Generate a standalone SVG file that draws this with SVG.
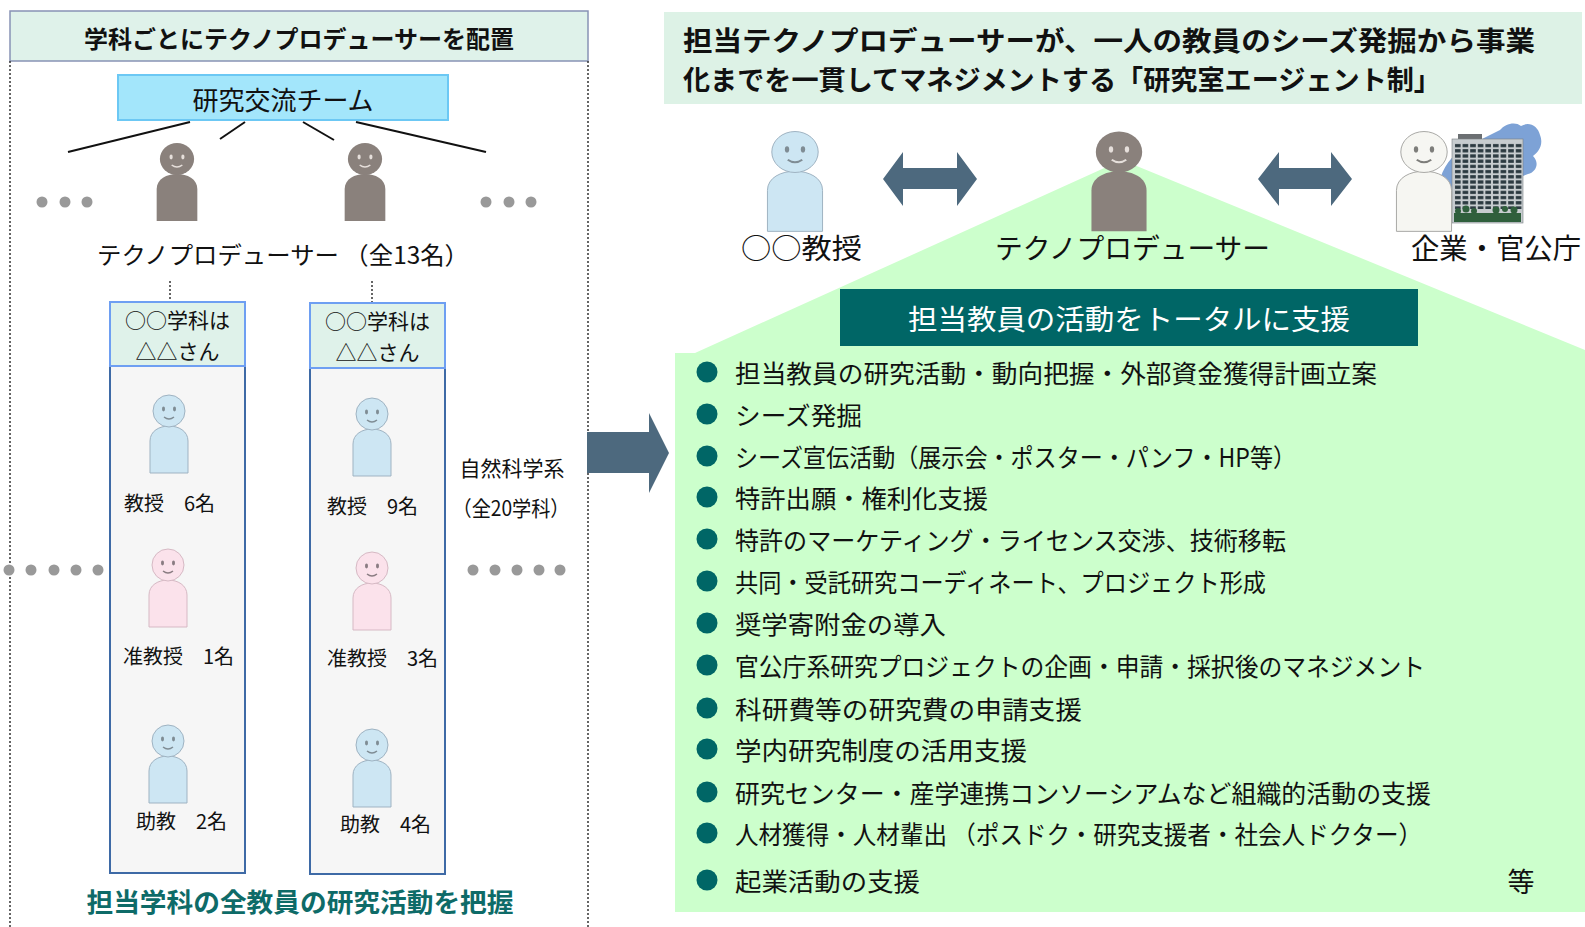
<svg xmlns="http://www.w3.org/2000/svg" xmlns:xlink="http://www.w3.org/1999/xlink" width="1585" height="927" viewBox="0 0 1585 927">
  <style>
    text { font-family: "Noto Sans CJK JP", "Noto Sans", sans-serif; dominant-baseline: central; fill: #111; }
    .b { font-weight: bold; }
    .mid { text-anchor: middle; }
    .eye { fill: currentColor; stroke: none; }
    .smile { fill: none; stroke: currentColor; stroke-width: 1.4; }
    .dot { fill: #999; }
    .dotted { stroke: #333; stroke-width: 1.5; stroke-dasharray: 2 2; fill: none; }
    .bullet { fill: #006666; }
    .item { font-size: 25px; }
    .lbl { font-size: 20px; }
    .deptHead { fill: #dff2ea; stroke: #6e9ff2; stroke-width: 2; }
    .deptBody { fill: #f6f6f6; stroke: #3e6aa6; stroke-width: 2; }
    .prof { fill: #cde6f3; stroke: #9fb3c2; stroke-width: 1; color: #7f8c94; }
    .assoc { fill: #fbe2eb; stroke: #d6b9c4; stroke-width: 1; color: #8a7c82; }
    .tp { fill: #8a817c; stroke: none; color: #e6dfdb; }
    .corp { fill: #f6f6f2; stroke: #a9a9a6; stroke-width: 1; color: #7d7d7a; }
    .slate { fill: #4d697e; }
  </style>
  <defs>
    <!-- generic person figure, head centred on the origin -->
    <g id="person">
      <path d="M-19,62 V30 C-19,10 19,10 19,30 V62 Z" vector-effect="non-scaling-stroke"/>
      <circle cx="0" cy="0" r="16" vector-effect="non-scaling-stroke"/>
      <ellipse class="eye" cx="-5.5" cy="-2" rx="1.5" ry="2.4"/>
      <ellipse class="eye" cx="5.5" cy="-2" rx="1.5" ry="2.4"/>
      <path class="smile" d="M-5,6 Q0,10 5,6"/>
    </g>
    <pattern id="win" x="1454" y="143" width="7.6" height="5.2" patternUnits="userSpaceOnUse">
      <rect width="7.6" height="5.2" fill="#c7cccf"/>
      <rect x="1" y="1" width="5.6" height="3.2" fill="#2b3940"/>
    </pattern>
  </defs>

  <!-- left panel: producers assigned per department -->
  <g id="left-panel">
    <rect x="10" y="11" width="578" height="50" fill="#dff2ea" stroke="#8893b5" stroke-width="1.5"/>
    <text class="b mid" x="299" y="37" font-size="24">学科ごとにテクノプロデューサーを配置</text>
    <line class="dotted" x1="10" y1="61" x2="10" y2="927"/>
    <line class="dotted" x1="588" y1="61" x2="588" y2="927"/>
  </g>

  <g id="team">
    <rect x="118" y="75" width="330" height="45" fill="#a3e6fb" stroke="#6cc8f4" stroke-width="2"/>
    <text class="mid" x="283" y="98" font-size="26">研究交流チーム</text>
  </g>

  <g id="connectors">
    <g stroke="#111" stroke-width="2">
      <line x1="190" y1="122" x2="68" y2="152"/>
      <line x1="245" y1="122" x2="220" y2="139"/>
      <line x1="303" y1="122" x2="334" y2="140"/>
      <line x1="356" y1="122" x2="486" y2="152"/>
    </g>
    <line class="dotted" x1="170" y1="281" x2="170" y2="302"/>
    <line class="dotted" x1="372" y1="281" x2="372" y2="303"/>
    <polygon class="slate" points="587,432 649,432 649,413 669,453 649,493 649,473 587,473"/>
  </g>

  <g id="producers">
    <use xlink:href="#person" class="tp" transform="translate(177,159) scale(1.07,1)"/>
    <use xlink:href="#person" class="tp" transform="translate(365,159) scale(1.07,1)"/>
    <circle class="dot" cx="42" cy="202" r="5.5"/>
    <circle class="dot" cx="65" cy="202" r="5.5"/>
    <circle class="dot" cx="87" cy="202" r="5.5"/>
    <circle class="dot" cx="486" cy="202" r="5.5"/>
    <circle class="dot" cx="509" cy="202" r="5.5"/>
    <circle class="dot" cx="531" cy="202" r="5.5"/>
    <text x="97" y="253" font-size="24" textLength="372" lengthAdjust="spacingAndGlyphs">テクノプロデューサー （全13名）</text>
  </g>

  <g id="dept-1">
    <rect class="deptBody" x="110" y="366" width="135" height="507"/>
    <rect class="deptHead" x="110" y="302" width="135" height="64"/>
    <text class="mid" font-size="21"><tspan x="177.5" y="319">○○学科は</tspan><tspan x="177.5" y="350">△△さん</tspan></text>
    <use xlink:href="#person" class="prof" transform="translate(169,411)"/>
    <text class="lbl" x="124" y="502">教授　6名</text>
    <use xlink:href="#person" class="assoc" transform="translate(168,565)"/>
    <text class="lbl" x="123" y="655">准教授　1名</text>
    <use xlink:href="#person" class="prof" transform="translate(168,741)"/>
    <text class="lbl" x="136" y="820">助教　2名</text>
  </g>

  <g id="dept-2">
    <rect class="deptBody" x="310" y="368" width="135" height="506"/>
    <rect class="deptHead" x="310" y="303" width="135" height="65"/>
    <text class="mid" font-size="21"><tspan x="377.5" y="320">○○学科は</tspan><tspan x="377.5" y="351">△△さん</tspan></text>
    <use xlink:href="#person" class="prof" transform="translate(372,414)"/>
    <text class="lbl" x="327" y="505">教授　9名</text>
    <use xlink:href="#person" class="assoc" transform="translate(372,568)"/>
    <text class="lbl" x="327" y="657">准教授　3名</text>
    <use xlink:href="#person" class="prof" transform="translate(372,745)"/>
    <text class="lbl" x="340" y="823">助教　4名</text>
  </g>

  <g id="more-depts">
    <circle class="dot" cx="9" cy="570" r="5.5"/>
    <circle class="dot" cx="31" cy="570" r="5.5"/>
    <circle class="dot" cx="54" cy="570" r="5.5"/>
    <circle class="dot" cx="76" cy="570" r="5.5"/>
    <circle class="dot" cx="98" cy="570" r="5.5"/>
    <circle class="dot" cx="473" cy="570" r="5.5"/>
    <circle class="dot" cx="495" cy="570" r="5.5"/>
    <circle class="dot" cx="517" cy="570" r="5.5"/>
    <circle class="dot" cx="539" cy="570" r="5.5"/>
    <circle class="dot" cx="560" cy="570" r="5.5"/>
    <text class="mid" x="512" y="467" font-size="21">自然科学系</text>
    <text class="mid" x="511" y="507" font-size="21" textLength="117" lengthAdjust="spacingAndGlyphs">（全20学科）</text>
  </g>

  <text id="left-caption" class="b mid" x="300" y="900" font-size="26" style="fill:#0e6b68" textLength="427" lengthAdjust="spacingAndGlyphs">担当学科の全教員の研究活動を把握</text>

  <!-- right panel: laboratory agent system -->
  <g id="right-header">
    <rect x="664" y="12" width="918" height="92" fill="#ddf2e6"/>
    <text class="b" font-size="27"><tspan x="683" y="39" textLength="852" lengthAdjust="spacingAndGlyphs">担当テクノプロデューサーが、一人の教員のシーズ発掘から事業</tspan><tspan x="683" y="78" textLength="758" lengthAdjust="spacingAndGlyphs">化までを一貫してマネジメントする「研究室エージェント制」</tspan></text>
  </g>

  <g id="support-area">
    <polygon points="675,353 695,353 1122,160 1585,350 1585,912 675,912" fill="#ccffcc"/>
    <rect x="840" y="289" width="578" height="57" fill="#006666"/>
    <text class="mid" x="1129" y="318" font-size="28" style="fill:#ffffff" textLength="442" lengthAdjust="spacingAndGlyphs">担当教員の活動をトータルに支援</text>
  </g>

  <g id="professor">
    <use xlink:href="#person" class="prof" transform="translate(795,152) scale(1.45,1.28)"/>
    <text x="741" y="247" font-size="28" textLength="121" lengthAdjust="spacingAndGlyphs">○○教授</text>
  </g>

  <g id="producer">
    <use xlink:href="#person" class="tp" transform="translate(1119,152) scale(1.45,1.28)"/>
    <text x="995" y="247" font-size="28" textLength="275" lengthAdjust="spacingAndGlyphs">テクノプロデューサー</text>
  </g>

  <g id="corporate">
    <path d="M1438,190 C1440,172 1448,160 1460,150 L1500,130 C1505,124 1515,121 1521,126 C1529,121 1538,126 1540,135 C1544,145 1538,152 1533,156 C1540,163 1536,172 1528,174 L1523,176 L1452,200 Z" fill="#7da2d6"/>
    <rect x="1458" y="134" width="24" height="6" fill="#6b6f72"/>
    <rect x="1452" y="139" width="71" height="84" fill="#c7cccf" stroke="#7a7f82" stroke-width="0.6"/>
    <rect x="1454" y="143" width="68" height="66" fill="url(#win)"/>
    <g fill="#2f5f3c">
      <rect x="1454" y="213" width="67" height="9"/>
      <circle cx="1458" cy="211" r="3"/>
      <circle cx="1466" cy="209" r="3.5"/>
      <circle cx="1474" cy="211" r="3"/>
      <circle cx="1496" cy="210" r="3.5"/>
      <circle cx="1505" cy="209" r="3"/>
      <circle cx="1514" cy="210" r="3.5"/>
    </g>
    <use xlink:href="#person" class="corp" transform="translate(1424,152) scale(1.45,1.28)"/>
    <text x="1411" y="247" font-size="28" textLength="170" lengthAdjust="spacingAndGlyphs">企業・官公庁</text>
  </g>

  <g id="links">
    <polygon class="slate" points="883,179 903,152 903,168 957,168 957,152 977,179 957,206 957,189 903,189 903,206"/>
    <polygon class="slate" points="1258,179 1279,152 1279,168 1331,168 1331,152 1352,179 1331,206 1331,189 1279,189 1279,206"/>
  </g>

  <g id="support-list">
    <circle class="bullet" cx="707" cy="372" r="10.5"/>
    <text class="item" x="735" y="372" textLength="642" lengthAdjust="spacingAndGlyphs">担当教員の研究活動・動向把握・外部資金獲得計画立案</text>
    <circle class="bullet" cx="707" cy="414" r="10.5"/>
    <text class="item" x="735" y="414" textLength="127" lengthAdjust="spacingAndGlyphs">シーズ発掘</text>
    <circle class="bullet" cx="707" cy="456" r="10.5"/>
    <text class="item" x="735" y="456" textLength="561" lengthAdjust="spacingAndGlyphs">シーズ宣伝活動（展示会・ポスター・パンフ・HP等）</text>
    <circle class="bullet" cx="707" cy="497" r="10.5"/>
    <text class="item" x="735" y="497" textLength="253" lengthAdjust="spacingAndGlyphs">特許出願・権利化支援</text>
    <circle class="bullet" cx="707" cy="539" r="10.5"/>
    <text class="item" x="735" y="539" textLength="551" lengthAdjust="spacingAndGlyphs">特許のマーケティング・ライセンス交渉、技術移転</text>
    <circle class="bullet" cx="707" cy="581" r="10.5"/>
    <text class="item" x="735" y="581" textLength="531" lengthAdjust="spacingAndGlyphs">共同・受託研究コーディネート、プロジェクト形成</text>
    <circle class="bullet" cx="707" cy="623" r="10.5"/>
    <text class="item" x="735" y="623" textLength="211" lengthAdjust="spacingAndGlyphs">奨学寄附金の導入</text>
    <circle class="bullet" cx="707" cy="665" r="10.5"/>
    <text class="item" x="735" y="665" textLength="690" lengthAdjust="spacingAndGlyphs">官公庁系研究プロジェクトの企画・申請・採択後のマネジメント</text>
    <circle class="bullet" cx="707" cy="708" r="10.5"/>
    <text class="item" x="735" y="708" textLength="347" lengthAdjust="spacingAndGlyphs">科研費等の研究費の申請支援</text>
    <circle class="bullet" cx="707" cy="749" r="10.5"/>
    <text class="item" x="735" y="749" textLength="292" lengthAdjust="spacingAndGlyphs">学内研究制度の活用支援</text>
    <circle class="bullet" cx="707" cy="792" r="10.5"/>
    <text class="item" x="735" y="792" textLength="696" lengthAdjust="spacingAndGlyphs">研究センター・産学連携コンソーシアムなど組織的活動の支援</text>
    <circle class="bullet" cx="707" cy="833" r="10.5"/>
    <text class="item" x="735" y="833" textLength="687" lengthAdjust="spacingAndGlyphs">人材獲得・人材輩出 （ポスドク・研究支援者・社会人ドクター）</text>
    <circle class="bullet" cx="707" cy="880" r="10.5"/>
    <text class="item" x="735" y="880" textLength="185" lengthAdjust="spacingAndGlyphs">起業活動の支援</text>
    <text class="mid" x="1521" y="880" font-size="27">等</text>
  </g>
</svg>
